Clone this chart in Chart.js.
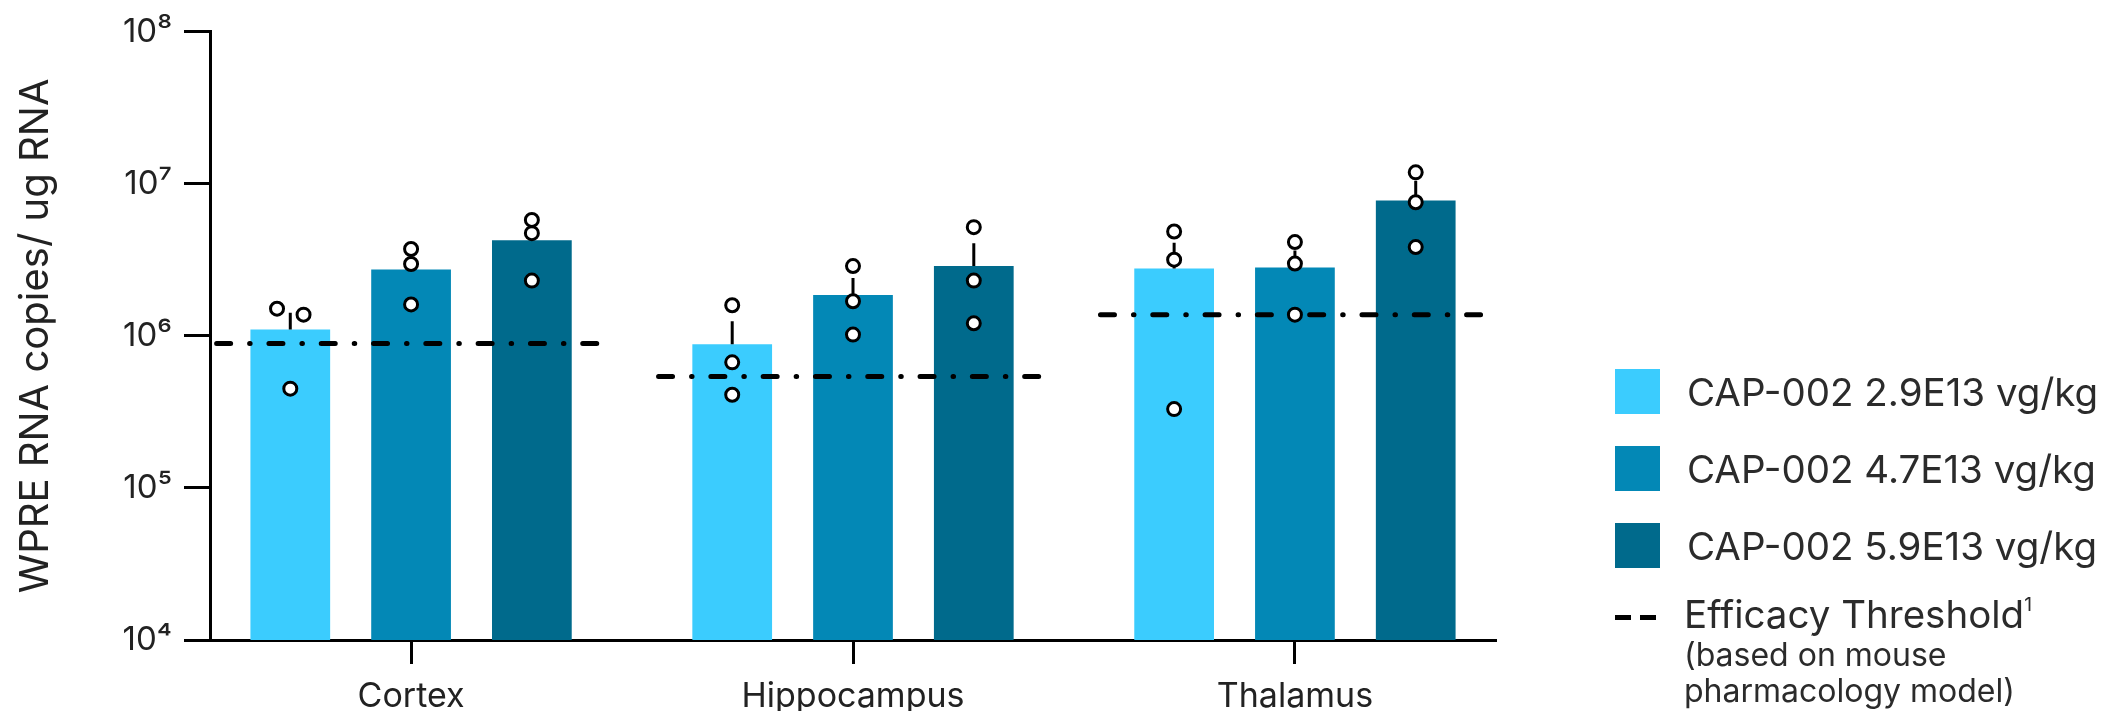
<!DOCTYPE html>
<html>
<head>
<meta charset="utf-8">
<script src="https://cdn.jsdelivr.net/npm/chart.js@4.4.0/dist/chart.umd.min.js"></script>
<style>
  body { margin: 0; background: #fff; }
  #wrap { position: relative; width: 2114px; height: 711px; }
  #legend { position: absolute; left: 1615px; top: 353px; font-family: Inter, sans-serif; color: #2b2b2b; }
  .row { display: flex; align-items: center; height: 77px; }
  .swatch { width: 45px; height: 45px; margin-right: 27px; flex: none; }
  .label { font-size: 38.5px; white-space: nowrap; }
  .row.line { align-items: flex-start; height: auto; margin-top: 7px; }
  .dash { width: 42px; height: 5px; margin: 24px 27px 0 0; flex: none; }
  .label sup { font-size: 0.5em; vertical-align: 0.9em; }
  .note { font-size: 32px; line-height: 36px; }
</style>
</head>
<body>
<div id="wrap">
  <canvas id="myChart" width="2114" height="711"></canvas>
  <div id="legend"></div>
</div>
<script>
const CATEGORIES = ['Cortex', 'Hippocampus', 'Thalamus'];
const SERIES_LABELS = ['CAP-002 2.9E13 vg/kg', 'CAP-002 4.7E13 vg/kg', 'CAP-002 5.9E13 vg/kg'];
const SERIES_COLORS = ['#3bccfe', '#0388b6', '#006a8c'];

// bar height (group mean) per region
const MEAN_LOW = [1.10e6, 8.8e5, 2.77e6];
const MEAN_MID = [2.73e6, 1.86e6, 2.82e6];
const MEAN_HIGH = [4.25e6, 2.88e6, 7.76e6];

// top of the error bar
const ERR_LOW = [1.42e6, 1.25e6, 4.1e6];
const ERR_MID = [3.4e6, 2.40e6, 3.64e6];
const ERR_HIGH = [5.3e6, 4.07e6, 1.05e7];

// single animals per region
const PTS_LOW = [[1.51e6, 1.38e6, 4.5e5], [1.59e6, 6.7e5, 4.1e5], [4.86e6, 3.17e6, 3.3e5]];
const PTS_MID = [[3.73e6, 2.97e6, 1.61e6], [2.88e6, 1.69e6, 1.02e6], [4.14e6, 2.99e6, 1.38e6]];
const PTS_HIGH = [[5.79e6, 4.74e6, 2.31e6], [5.19e6, 2.31e6, 1.21e6], [1.19e7, 7.57e6, 3.84e6]];

const THRESHOLD = [8.9e5, 5.4e5, 1.38e6];
const THRESHOLD_LABEL = 'Efficacy Threshold';
const THRESHOLD_NOTE = ['(based on mouse', 'pharmacology model)'];

const Y_TICKS = [1e4, 1e5, 1e6, 1e7, 1e8];
const Y_TICK_LABELS = ['10⁴', '10⁵', '10⁶', '10⁷', '10⁸'];
const Y_TITLE = 'WPRE RNA copies/ ug RNA';

// layout
const FONT = 'Inter, sans-serif';
const CAT_PCT = 0.82;
const BAR_PCT = 0.66;
const SLOT = CAT_PCT / 3;
const JITTER = { '0-0': [-0.03, 0.03, 0] }; // dots that would sit on top of each other
const LINE_HALF = 0.44;

const means = [MEAN_LOW, MEAN_MID, MEAN_HIGH];
const errs = [ERR_LOW, ERR_MID, ERR_HIGH];
const pts = [PTS_LOW, PTS_MID, PTS_HIGH];

const datasets = [];

means.forEach((m, s) => {
  datasets.push({
    type: 'bar',
    label: SERIES_LABELS[s],
    stack: 's' + s,
    data: m.map((v, c) => ({ x: c, y: v })),
    backgroundColor: SERIES_COLORS[s],
    categoryPercentage: CAT_PCT,
    barPercentage: BAR_PCT,
    order: 3
  });
});

// error bars as thin floating bars in the same slot
means.forEach((m, s) => {
  datasets.push({
    type: 'bar',
    stack: 's' + s,
    data: m.map((v, c) => ({ x: c, y: [v, errs[s][c]] })),
    backgroundColor: '#000',
    categoryPercentage: CAT_PCT,
    barPercentage: BAR_PCT,
    maxBarThickness: 3,
    order: 2
  });
});

THRESHOLD.forEach((t, c) => {
  datasets.push({
    type: 'line',
    label: THRESHOLD_LABEL,
    data: [{ x: c - LINE_HALF, y: t }, { x: c + LINE_HALF, y: t }],
    borderColor: '#000',
    borderWidth: 5,
    borderDash: [14, 19, 0.5, 18.8],
    borderCapStyle: 'round',
    pointRadius: 0,
    order: 1
  });
});

pts.forEach((series, s) => {
  datasets.push({
    type: 'scatter',
    data: series.flatMap((vals, c) => vals.map((v, k) => ({
      x: c + (s - 1) * SLOT + ((JITTER[c + '-' + s] || [])[k] || 0),
      y: v
    }))),
    pointRadius: 6.5,
    pointBorderWidth: 3,
    pointBackgroundColor: '#fff',
    pointBorderColor: '#000',
    order: 0
  });
});

const htmlLegend = {
  id: 'htmlLegend',
  afterUpdate(chart) {
    const box = document.getElementById('legend');
    box.innerHTML = '';
    const seen = [];
    chart.data.datasets.forEach(ds => {
      if (!ds.label || seen.includes(ds.label)) return;
      seen.push(ds.label);
      const row = document.createElement('div');
      row.className = 'row';
      const label = document.createElement('div');
      label.className = 'label';
      if (ds.type === 'line') {
        row.classList.add('line');
        const dash = document.createElement('div');
        dash.className = 'dash';
        dash.style.background = 'repeating-linear-gradient(to right,' + ds.borderColor + ' 0 16px, transparent 16px 25px)';
        row.appendChild(dash);
        label.innerHTML = ds.label + '<sup>1</sup>';
        const note = document.createElement('div');
        note.className = 'note';
        note.innerHTML = THRESHOLD_NOTE.join('<br>');
        label.appendChild(note);
      } else {
        const sw = document.createElement('div');
        sw.className = 'swatch';
        sw.style.background = ds.backgroundColor;
        row.appendChild(sw);
        label.textContent = ds.label;
      }
      row.appendChild(label);
      box.appendChild(row);
    });
  }
};

new Chart(document.getElementById('myChart'), {
  type: 'bar',
  data: { datasets: datasets },
  plugins: [htmlLegend],
  options: {
    responsive: false,
    animation: false,
    layout: { padding: { top: 30, right: 618, bottom: 0, left: 0 } },
    plugins: { legend: { display: false }, tooltip: { enabled: false } },
    scales: {
      x: {
        type: 'linear',
        min: -0.455,
        max: 2.455,
        offset: false,
        afterBuildTicks: s => { s.ticks = CATEGORIES.map((_, i) => ({ value: i })); },
        afterFit: s => { s.height = 71; },
        ticks: {
          callback: v => CATEGORIES[v],
          font: { family: FONT, size: 34 },
          color: '#222',
          padding: 12,
          autoSkip: false,
          maxRotation: 0
        },
        grid: { drawOnChartArea: false, offset: false, tickLength: 24, tickWidth: 3, tickColor: '#000' },
        border: { color: '#000', width: 3 }
      },
      y: {
        type: 'logarithmic',
        min: 1e4,
        max: 1e8,
        stacked: false,
        afterBuildTicks: s => { s.ticks = Y_TICKS.map(v => ({ value: v, major: true })); },
        afterFit: s => { s.width = 210; },
        ticks: {
          callback: v => Y_TICK_LABELS[Y_TICKS.indexOf(v)],
          font: { family: FONT, size: 33 },
          color: '#222',
          padding: 12
        },
        grid: { drawOnChartArea: false, tickLength: 26, tickWidth: 3, tickColor: '#000' },
        border: { color: '#000', width: 3 },
        title: {
          display: true,
          text: Y_TITLE,
          font: { family: FONT, size: 40 },
          color: '#222',
          padding: { top: 12, bottom: 0 }
        }
      }
    }
  }
});
</script>
</body>
</html>
